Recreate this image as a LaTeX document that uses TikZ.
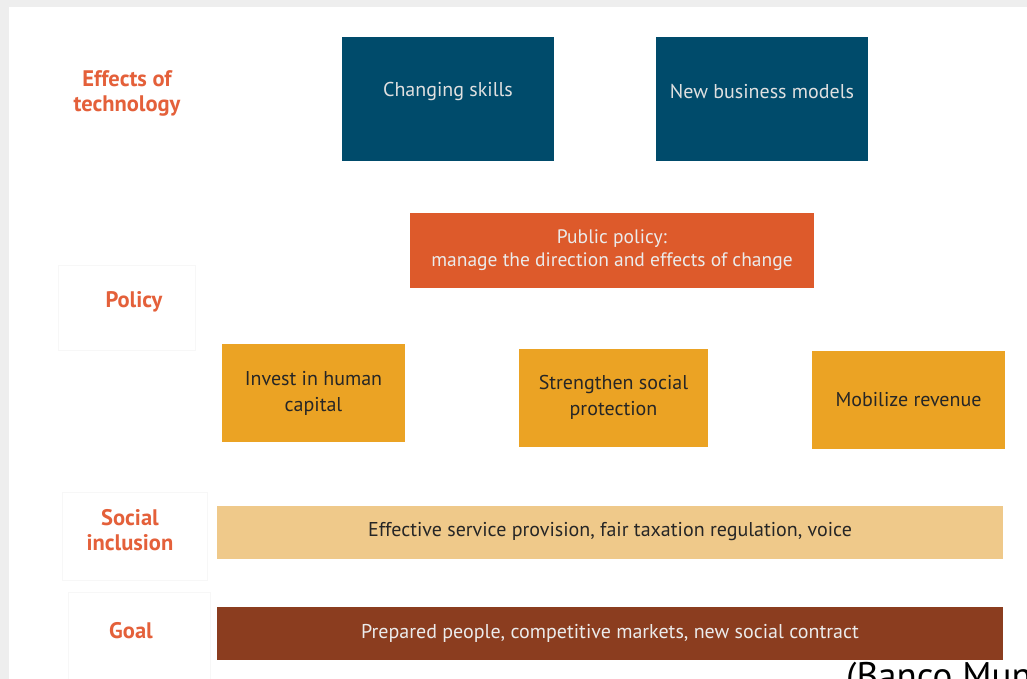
\documentclass[tikz,border=0pt]{standalone}
\usepackage{fontspec}
\setmainfont{PT Sans}
\usepackage{xcolor}

\definecolor{techblue}{HTML}{004B6B}
\definecolor{policyred}{HTML}{DD5A2B}
\definecolor{actionyellow}{HTML}{EBA324}
\definecolor{inclusiontan}{HTML}{EFC98A}
\definecolor{goalbrown}{HTML}{8B3D1F}
\definecolor{rowlabel}{HTML}{E4603A}
\definecolor{pagegray}{HTML}{EEEEEE}

\begin{document}
\begin{tikzpicture}[x=1pt,y=-1pt,
    every node/.style={inner sep=0pt, align=center, font=\fontsize{20}{25}\selectfont},
    rowname/.style={text=rowlabel, font=\fontsize{22.5}{25}\selectfont\bfseries},
    rowframe/.style={draw=black!3, line width=0.6pt},
    techbox/.style={fill=techblue, minimum width=212pt, minimum height=124pt},
    publicbox/.style={fill=policyred, text=black!8, minimum width=404pt, minimum height=75pt},
    actionbox/.style={fill=actionyellow, text=black!85, minimum height=98pt},
    barbox/.style={minimum width=786pt, minimum height=53pt}]
    \useasboundingbox (0,0) rectangle (1027,679);
    \fill[pagegray] (0,0) rectangle (1027,679);
    \fill[white] (9,7) rectangle (1027,679);

    % row names on the left
    \draw[rowframe] (58,265) rectangle (195,350);
    \draw[rowframe] (62,492) rectangle (207,580);
    \draw[rowframe] (68,592) rectangle (210,679);
    \node[rowname] (effects) at (127,93) {Effects of\\technology};
    \node[rowname] (policy) at (134,302) {Policy};
    \node[rowname] (social) at (130,530) {Social\\inclusion};
    \node[rowname] (goalname) at (131,631) {Goal};

    % effects of technology
    \node[techbox, label={[text=black!12, yshift=7pt]center:Changing skills}] (skills) at (448,99) {};
    \node[techbox, label={[text=black!12, yshift=7pt]center:New business models}] (models) at (762,99) {};

    % policy
    \node[publicbox, font=\fontsize{19.5}{23}\selectfont] (public) at (612,250) {Public policy:\\manage the direction and effects of change};
    \node[actionbox, minimum width=183pt, font=\fontsize{20}{26}\selectfont] (invest) at (313.5,393) {Invest in human\\capital};
    \node[actionbox, minimum width=189pt, font=\fontsize{20}{26}\selectfont] (protect) at (613.5,397.5) {Strengthen social\\protection};
    \node[actionbox, minimum width=193pt] (revenue) at (908.5,400) {Mobilize revenue};

    % social inclusion and goal
    \node[barbox, fill=inclusiontan, text=black!85] (inclusion) at (610,532) {Effective service provision, fair taxation regulation, voice};
    \node[barbox, fill=goalbrown, text=black!8] (goal) at (610,633) {Prepared people, competitive markets, new social contract};

    \begin{scope}
        \clip (0,0) rectangle (1027,679);
        \node[anchor=north west, font=\fontsize{37}{40}\selectfont] (source) at (846,662) {(Banco Mundial};
    \end{scope}
\end{tikzpicture}
\end{document}
